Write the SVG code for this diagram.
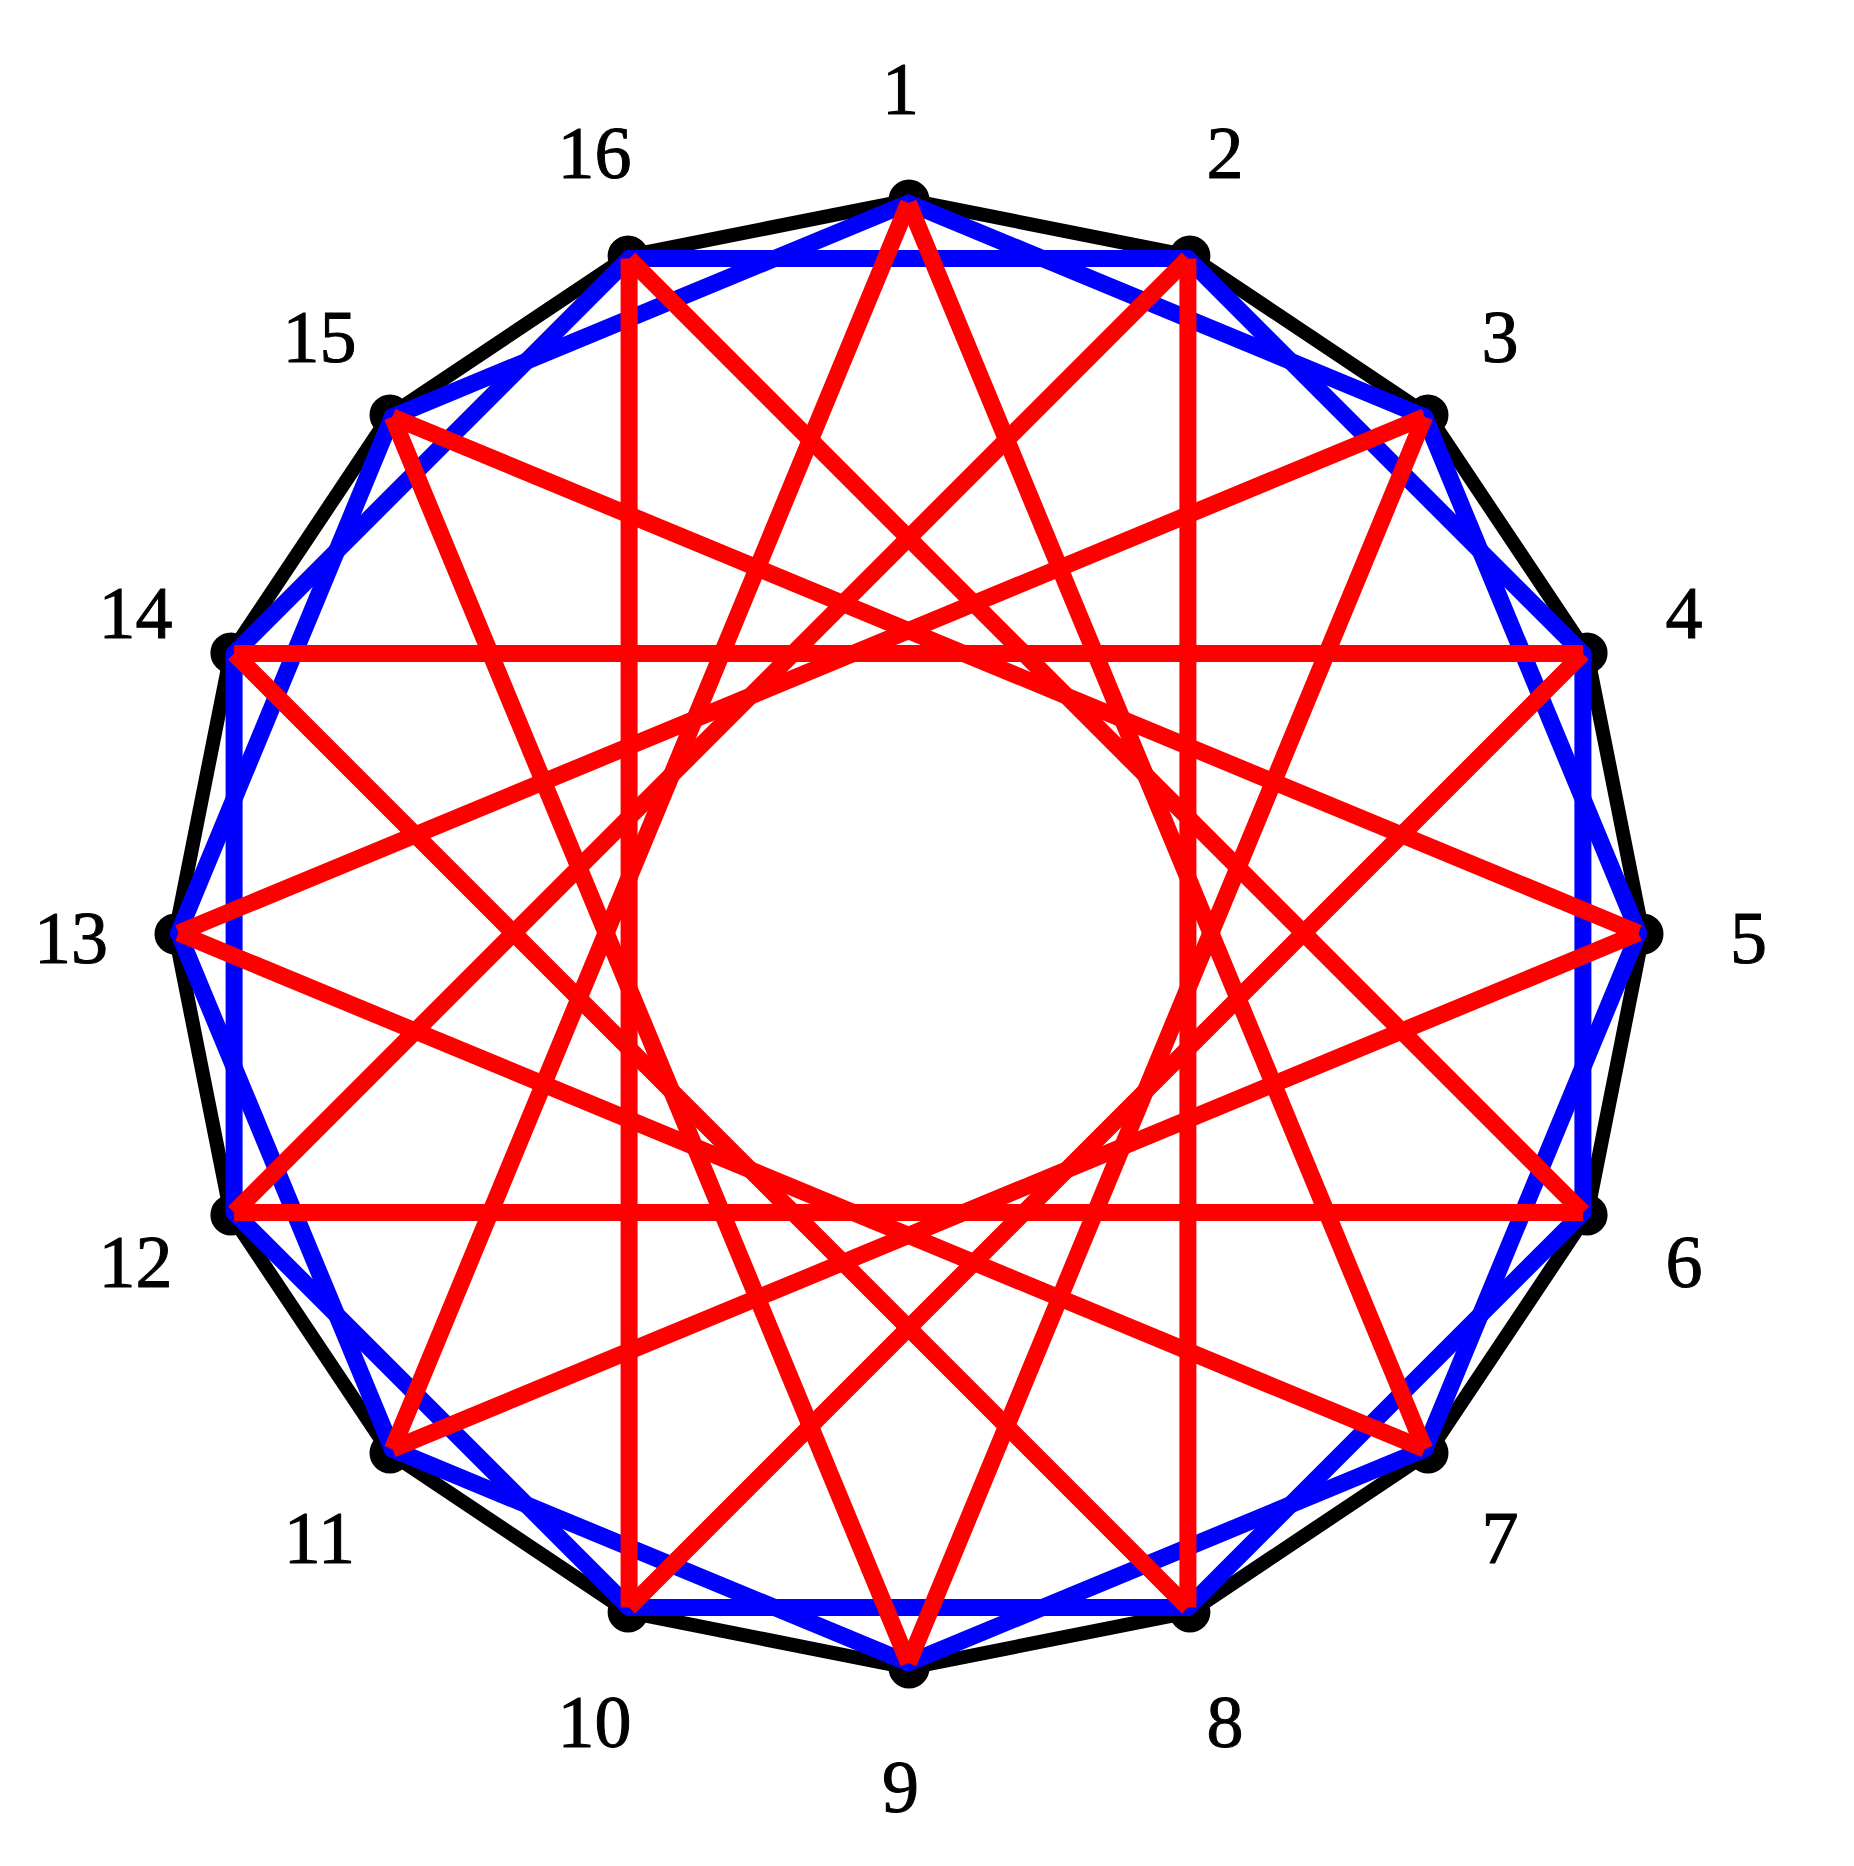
<svg xmlns="http://www.w3.org/2000/svg" width="1854" height="1866" viewBox="0 0 1854 1866">
<style>
.bg{fill:#ffffff}
.mk{fill:none;stroke:#000000;stroke-width:17}
.lbl{font-family:"Liberation Serif","Times New Roman",serif;font-size:74px;fill:#000000;stroke:#000000;stroke-width:1;text-anchor:middle}
.edge{fill:none;stroke:#000000;stroke-width:14;stroke-linejoin:round}
.blue line{stroke:#0000ff;stroke-width:17;stroke-linecap:round}
.red line{stroke:#ff0000;stroke-width:17;stroke-linecap:butt}
</style>
<rect class="bg" x="0" y="0" width="1854" height="1866"/>
<g id="nodes">
<g id="n1"><circle class="mk" cx="909" cy="200" r="12"/><text class="lbl" x="900.5" y="113.5">1</text></g>
<g id="n2"><circle class="mk" cx="1189.9" cy="255.9" r="12"/><text class="lbl" x="1225" y="178">2</text></g>
<g id="n3"><circle class="mk" cx="1428" cy="415" r="12"/><text class="lbl" x="1500" y="362">3</text></g>
<g id="n4"><circle class="mk" cx="1587.1" cy="653.1" r="12"/><text class="lbl" x="1684" y="637.6">4</text></g>
<g id="n5"><circle class="mk" cx="1643" cy="934" r="12"/><text class="lbl" x="1748.5" y="962.5">5</text></g>
<g id="n6"><circle class="mk" cx="1587.1" cy="1214.9" r="12"/><text class="lbl" x="1684" y="1287.4">6</text></g>
<g id="n7"><circle class="mk" cx="1428" cy="1453" r="12"/><text class="lbl" x="1500" y="1562.8">7</text></g>
<g id="n8"><circle class="mk" cx="1189.9" cy="1612.1" r="12"/><text class="lbl" x="1225" y="1746.9">8</text></g>
<g id="n9"><circle class="mk" cx="909" cy="1668" r="12"/><text class="lbl" x="900.5" y="1811.5">9</text></g>
<g id="n10"><circle class="mk" cx="628.1" cy="1612.1" r="12"/><text class="lbl" x="594.5" y="1746.9">10</text></g>
<g id="n11"><circle class="mk" cx="390" cy="1453" r="12"/><text class="lbl" x="319.4" y="1562.8">11</text></g>
<g id="n12"><circle class="mk" cx="230.9" cy="1214.9" r="12"/><text class="lbl" x="135.5" y="1287.4">12</text></g>
<g id="n13"><circle class="mk" cx="175" cy="934" r="12"/><text class="lbl" x="71" y="962.5">13</text></g>
<g id="n14"><circle class="mk" cx="230.9" cy="653.1" r="12"/><text class="lbl" x="135.5" y="637.6">14</text></g>
<g id="n15"><circle class="mk" cx="390" cy="415" r="12"/><text class="lbl" x="319.4" y="362">15</text></g>
<g id="n16"><circle class="mk" cx="628.1" cy="255.9" r="12"/><text class="lbl" x="594.5" y="178">16</text></g>
</g>
<g id="connectors">
<polygon class="edge" points="909,200 1189.9,255.9 1428,415 1587.1,653.1 1643,934 1587.1,1214.9 1428,1453 1189.9,1612.1 909,1668 628.1,1612.1 390,1453 230.9,1214.9 175,934 230.9,653.1 390,415 628.1,255.9"/>
<g class="blue">
<line x1="908.5" y1="203" x2="1424.7" y2="416.8"/>
<line x1="1187.9" y1="258.6" x2="1582.9" y2="653.6"/>
<line x1="1424.7" y1="416.8" x2="1638.5" y2="933"/>
<line x1="1582.9" y1="653.6" x2="1582.9" y2="1212.4"/>
<line x1="1638.5" y1="933" x2="1424.7" y2="1449.2"/>
<line x1="1582.9" y1="1212.4" x2="1187.9" y2="1607.4"/>
<line x1="1424.7" y1="1449.2" x2="908.5" y2="1663"/>
<line x1="1187.9" y1="1607.4" x2="629.1" y2="1607.4"/>
<line x1="908.5" y1="1663" x2="392.3" y2="1449.2"/>
<line x1="629.1" y1="1607.4" x2="234.1" y2="1212.4"/>
<line x1="392.3" y1="1449.2" x2="178.5" y2="933"/>
<line x1="234.1" y1="1212.4" x2="234.1" y2="653.6"/>
<line x1="178.5" y1="933" x2="392.3" y2="416.8"/>
<line x1="234.1" y1="653.6" x2="629.1" y2="258.6"/>
<line x1="392.3" y1="416.8" x2="908.5" y2="203"/>
<line x1="629.1" y1="258.6" x2="1187.9" y2="258.6"/>
</g>
<g class="red">
<line x1="908.5" y1="203" x2="1424.7" y2="1449.2"/>
<line x1="1187.9" y1="258.6" x2="1187.9" y2="1607.4"/>
<line x1="1424.7" y1="416.8" x2="908.5" y2="1663"/>
<line x1="1582.9" y1="653.6" x2="629.1" y2="1607.4"/>
<line x1="1638.5" y1="933" x2="392.3" y2="1449.2"/>
<line x1="1582.9" y1="1212.4" x2="234.1" y2="1212.4"/>
<line x1="1424.7" y1="1449.2" x2="178.5" y2="933"/>
<line x1="1187.9" y1="1607.4" x2="234.1" y2="653.6"/>
<line x1="908.5" y1="1663" x2="392.3" y2="416.8"/>
<line x1="629.1" y1="1607.4" x2="629.1" y2="258.6"/>
<line x1="392.3" y1="1449.2" x2="908.5" y2="203"/>
<line x1="234.1" y1="1212.4" x2="1187.9" y2="258.6"/>
<line x1="178.5" y1="933" x2="1424.7" y2="416.8"/>
<line x1="234.1" y1="653.6" x2="1582.9" y2="653.6"/>
<line x1="392.3" y1="416.8" x2="1638.5" y2="933"/>
<line x1="629.1" y1="258.6" x2="1582.9" y2="1212.4"/>
</g>
</g>
</svg>
